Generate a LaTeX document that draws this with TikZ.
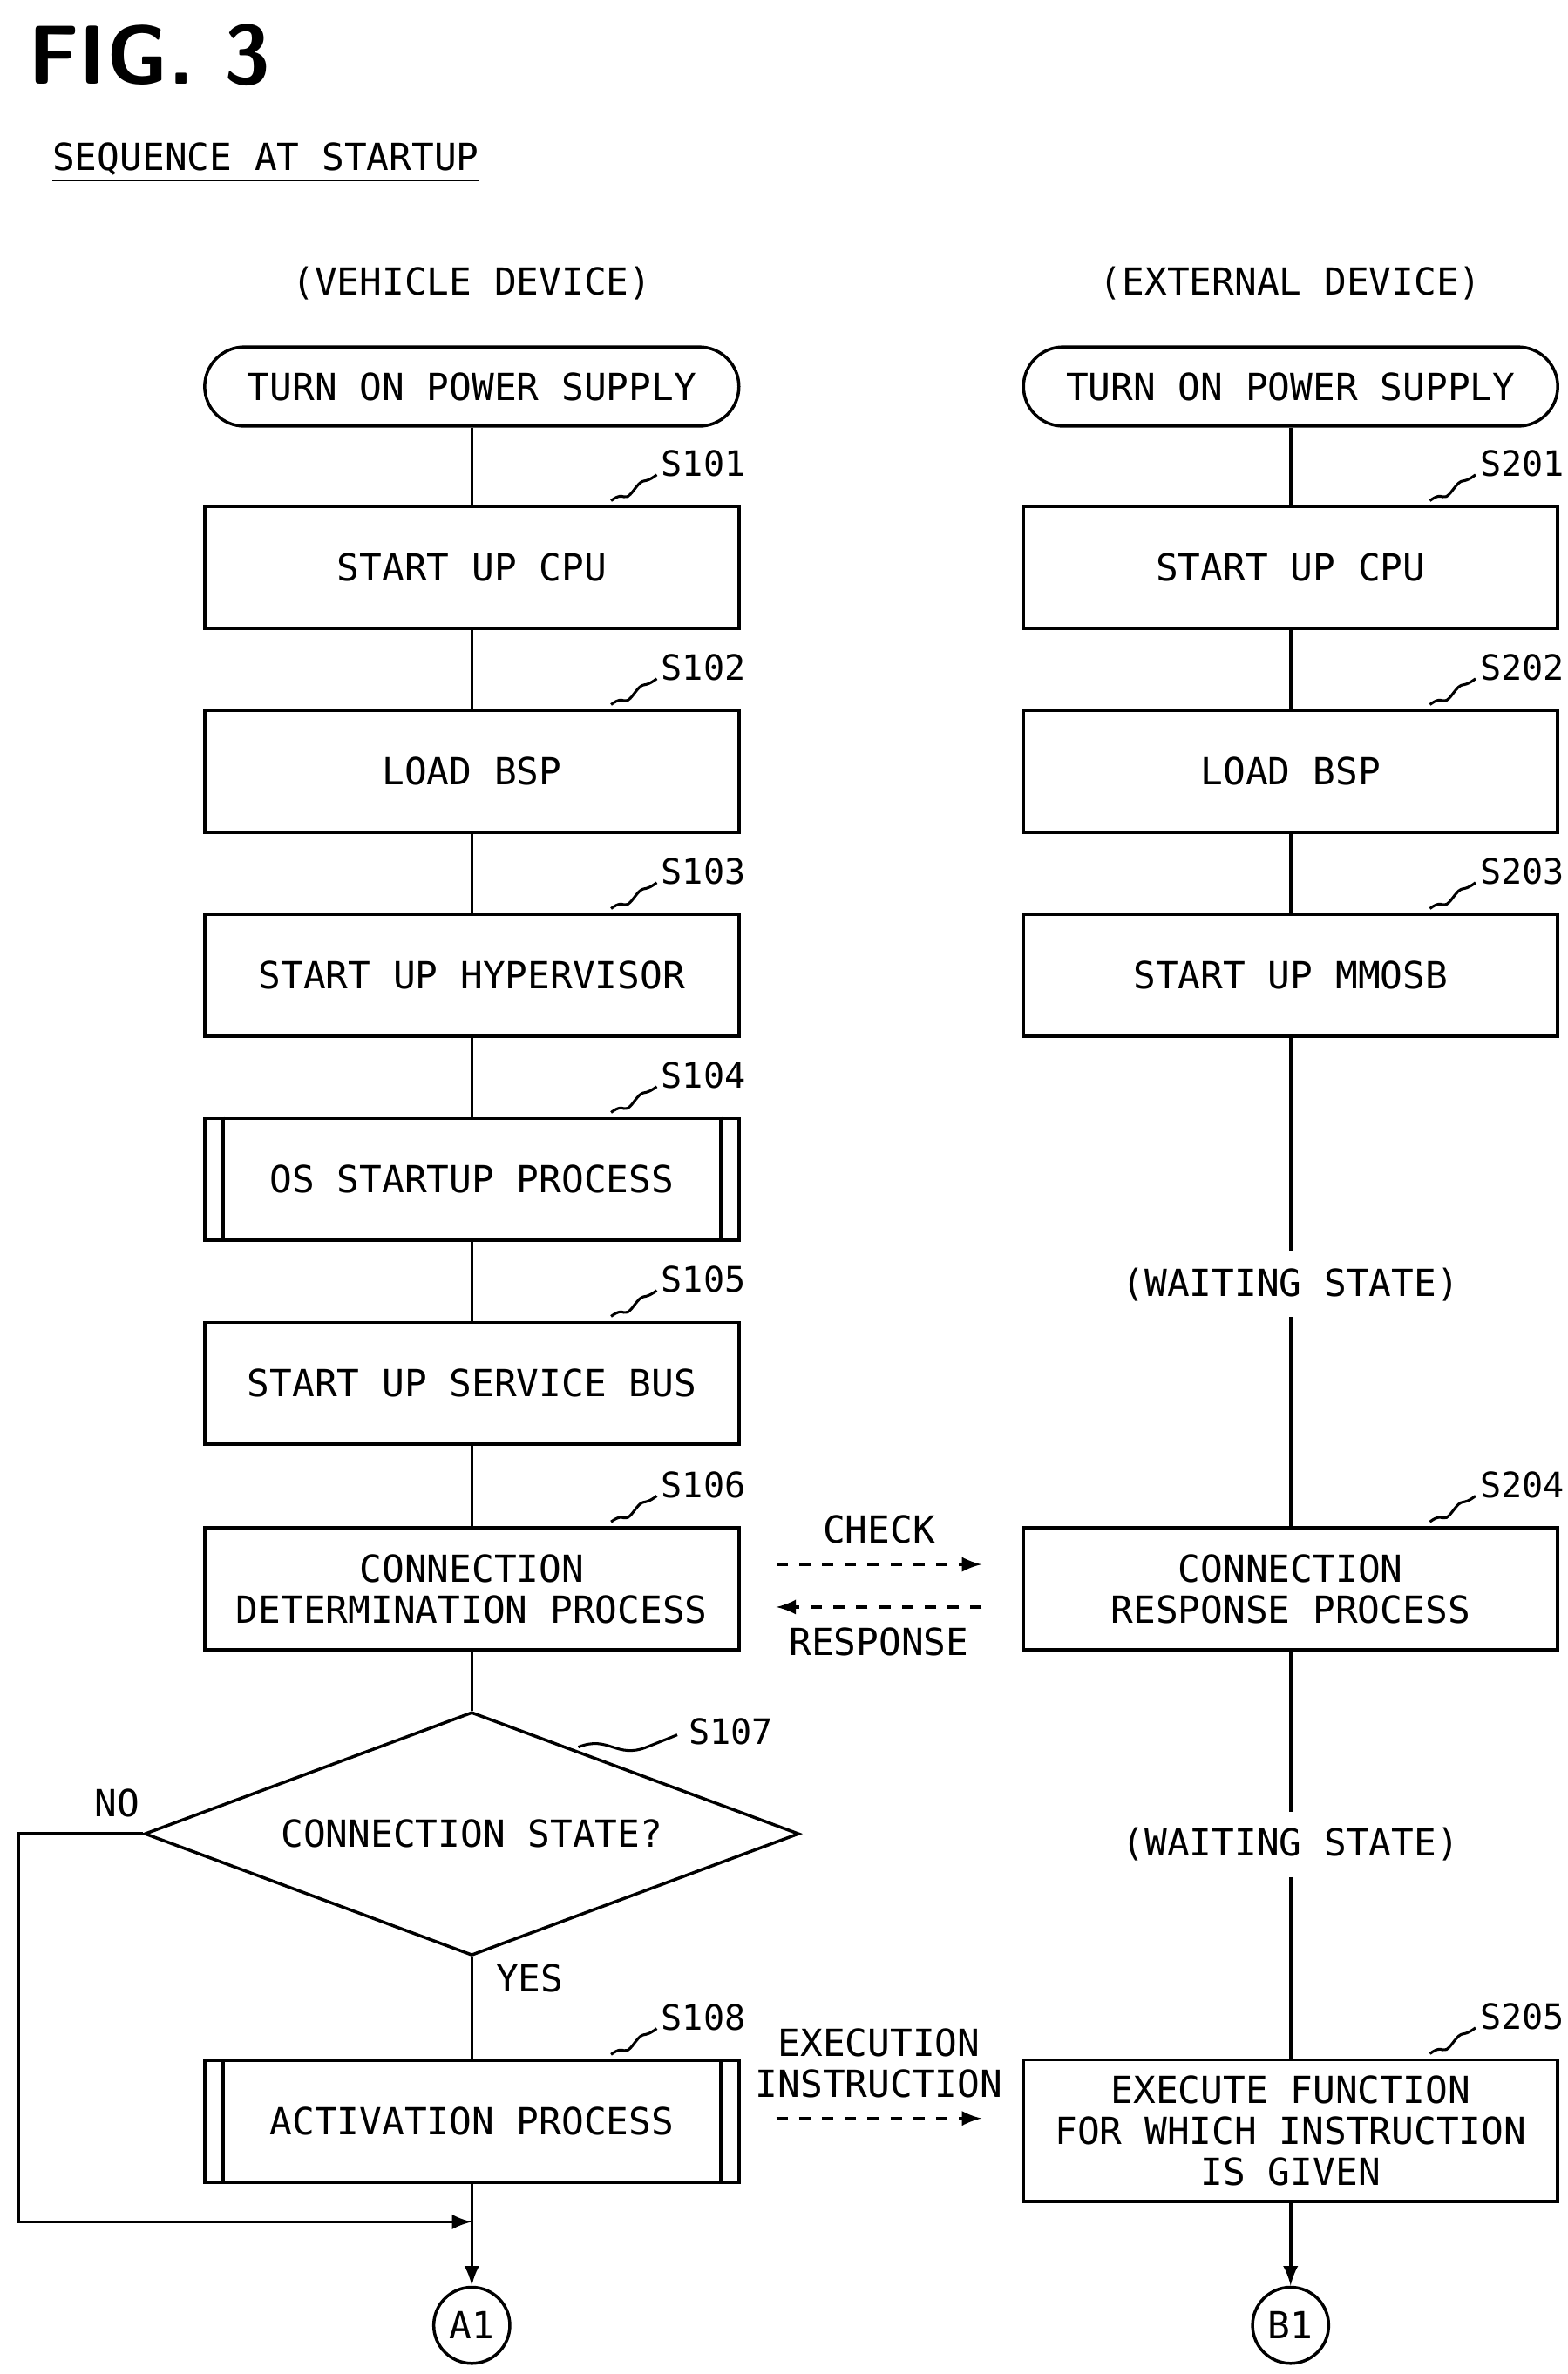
\documentclass[tikz,border=0pt]{standalone}
\usepackage{fontspec}
\setmainfont{DejaVu Sans Mono}
\usetikzlibrary{shapes.geometric,positioning}
\tikzset{
  proc/.style={draw,line width=0.8pt,minimum width=140.4pt,minimum height=32pt,inner sep=0pt,align=center,
    font=\fontsize{9.8}{10.8}\selectfont},
  term/.style={proc,rounded corners=10.4pt,minimum height=20.8pt},
  dec/.style={draw,line width=0.8pt,diamond,aspect=2.69,minimum width=172pt,minimum height=64pt,inner sep=0pt,
    font=\fontsize{9.8}{10.8}\selectfont},
  conn/.style={draw,line width=0.8pt,circle,minimum size=20pt,inner sep=0pt,font=\fontsize{9.8}{11}\selectfont},
  lbl/.style={inner sep=0pt,font=\fontsize{9.8}{10.8}\selectfont,align=center},
  wait/.style={lbl,inner sep=4pt},
  flow/.style={line width=0.8pt},
  msg/.style={line width=0.8pt,dashed,-latex},
}
% step label with squiggle at a box's top right corner
\newcommand\steplbl[2]{%
  \draw[line width=0.7pt] ([xshift=-34pt,yshift=1.2pt]#1.north east) .. controls +(4pt,3pt) and +(-3pt,-4pt) .. ([xshift=-28pt,yshift=4pt]#1.north east)
     .. controls +(3pt,4pt) and +(-4pt,-3pt) .. ([xshift=-22pt,yshift=8pt]#1.north east);
  \node[lbl,anchor=west,font=\fontsize{9.2}{10}\selectfont] at ([xshift=-21pt,yshift=11pt]#1.north east) {#2};}
\begin{document}
\begin{tikzpicture}[x=0.4pt,y=-0.4pt]
\path[use as bounding box] (0,0) rectangle (1030,1560);
\node[anchor=west,inner sep=0pt,font=\sffamily\bfseries\fontsize{22}{22}\selectfont] (fig) at (18,36) {FIG. 3};
\node[anchor=west,inner sep=0pt,font=\fontsize{9.8}{11}\selectfont] (title) at (34,107) {\underline{SEQUENCE AT STARTUP}};
\node[lbl] (vhead) at (310,186) {(VEHICLE DEVICE)};
\node[lbl] (ehead) at (848,186) {(EXTERNAL DEVICE)};
% vehicle device
\node[term] (vpow) at (310,254) {TURN ON POWER SUPPLY};
\node[proc] (v1) at (310,373) {START UP CPU};
\node[proc] (v2) at (310,507) {LOAD BSP};
\node[proc] (v3) at (310,641) {START UP HYPERVISOR};
\node[proc] (v4) at (310,775) {OS STARTUP PROCESS};
\node[proc] (v5) at (310,909) {START UP SERVICE BUS};
\node[proc] (v6) at (310,1044) {CONNECTION\\DETERMINATION PROCESS};
\node[dec] (v7) at (310,1205) {CONNECTION STATE?};
\node[proc] (v8) at (310,1394) {ACTIVATION PROCESS};
\node[conn] (a1) at (310,1528) {A1};
\foreach \n in {v4,v8}{
  \draw[flow] ([xshift=5.2pt]\n.north west) -- ([xshift=5.2pt]\n.south west);
  \draw[flow] ([xshift=-5.2pt]\n.north east) -- ([xshift=-5.2pt]\n.south east);}
\draw[flow] (vpow) -- (v1) -- (v2) -- (v3) -- (v4) -- (v5) -- (v6) -- (v7) -- (v8);
\draw[flow,-latex] (v8) -- (a1);
\coordinate (nob) at (12,1205);
\coordinate (noc) at (12,1460);
\draw[flow,-latex] (v7.west) -- (nob) -- (noc) -- (noc -| a1);
\node[lbl] (no) at (77,1185) {NO};
\node[lbl] (yes) at (348,1300) {YES};
\steplbl{v1}{S101}\steplbl{v2}{S102}\steplbl{v3}{S103}\steplbl{v4}{S104}
\steplbl{v5}{S105}\steplbl{v6}{S106}\steplbl{v8}{S108}
\draw[line width=0.7pt] (380,1148) .. controls (400,1140) and (405,1156) .. (425,1148) .. controls (435,1144) .. (445,1140);
\node[lbl,anchor=west,font=\fontsize{9.2}{10}\selectfont] (s107) at (452,1138) {S107};
% external device
\node[term] (epow) at (848,254) {TURN ON POWER SUPPLY};
\node[proc] (e1) at (848,373) {START UP CPU};
\node[proc] (e2) at (848,507) {LOAD BSP};
\node[proc] (e3) at (848,641) {START UP MMOSB};
\node[wait] (w1) at (848,844) {(WAITING STATE)};
\node[proc] (e4) at (848,1044) {CONNECTION\\RESPONSE PROCESS};
\node[wait] (w2) at (848,1212) {(WAITING STATE)};
\node[proc,minimum height=37.2pt] (e5) at (848,1400) {EXECUTE FUNCTION\\FOR WHICH INSTRUCTION\\IS GIVEN};
\node[conn] (b1) at (848,1528) {B1};
\draw[flow] (epow) -- (e1) -- (e2) -- (e3) -- (w1) -- (e4) -- (w2) -- (e5);
\draw[flow,-latex] (e5) -- (b1);
\steplbl{e1}{S201}\steplbl{e2}{S202}\steplbl{e3}{S203}\steplbl{e4}{S204}\steplbl{e5}{S205}
% messages
\coordinate (c1) at (510,1028); \coordinate (c2) at (645,1028);
\coordinate (r1) at (645,1056); \coordinate (r2) at (510,1056);
\coordinate (x1) at (510,1392); \coordinate (x2) at (645,1392);
\draw[msg] (c1) -- (c2) node[lbl,midway,above=5pt] (chk) {CHECK};
\draw[msg] (r1) -- (r2) node[lbl,midway,below=5pt] (rsp) {RESPONSE};
\draw[msg] (x1) -- (x2) node[lbl,midway,above=5pt] (exe) {EXECUTION\\INSTRUCTION};
\end{tikzpicture}
\end{document}
